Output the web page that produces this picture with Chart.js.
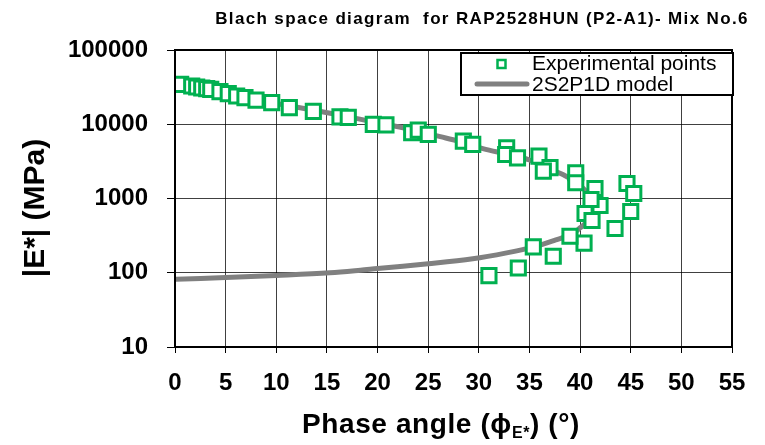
<!DOCTYPE html>
<html><head><meta charset="utf-8">
<script src="https://cdn.jsdelivr.net/npm/chart.js@4/dist/chart.umd.min.js"></script>
<style>html,body{margin:0;padding:0;background:#fff}</style>
</head><body>
<canvas id="c" width="765" height="445" style="display:block;width:765px;height:445px"></canvas>
<script>
const chartTitle = 'Blach space diagram  for RAP2528HUN (P2-A1)- Mix No.6';
const xAxisTitle = ['Phase angle (\u03D5', 'E*', ') (\u00B0)'];
const yAxisTitle = '|E*| (MPa)';
const legendLabels = ['Experimental points', '2S2P1D model'];
const xTickValues = [0, 5, 10, 15, 20, 25, 30, 35, 40, 45, 50, 55];
const yTickValues = [10, 100, 1000, 10000, 100000];

// Experimental points: phase angle (deg) and |E*| (MPa)
const expPhase = [0.56, 1.65, 2.14, 2.64, 3.13, 3.53, 4.44, 5.26, 6.09, 6.91, 8.0, 9.55, 11.29, 13.66, 16.29, 17.11,
  19.58, 20.83, 23.37, 24.02, 25.01, 28.47, 29.4, 32.75, 32.65, 33.82, 35.94, 37.03, 36.37, 39.57, 39.57,
  41.47, 41.97, 41.08, 40.49, 41.18, 43.45, 44.63, 45.3, 45.0,
  40.39, 39.0, 37.35, 35.38, 33.9, 31.0];
const expModulus = [34450, 32700, 31700, 30750, 30150, 29500, 27480, 25820, 23990, 22800, 21170, 19540, 16720, 14900, 12560, 12370,
  9950, 9800, 7690, 8340, 7300, 5930, 5350, 4830, 3920, 3520, 3720, 2600, 2340, 2220, 1630,
  1364, 805, 970, 628, 505, 394, 1593, 1168, 668,
  251, 310, 167, 223, 116, 91.6];

// 2S2P1D model curve
const modelPhase = [0.3, 2, 5, 8, 10, 13.3, 16, 20, 23, 26.2, 28, 30.4, 33, 35, 37, 38.3, 39.65, 40.6, 41.2, 41.4,
  41.2, 40.6, 40, 39.3, 37.7, 35.4, 32.75, 29.4, 25, 20, 18.3, 15.3, 10, 5, 0.1];
const modelModulus = [36000, 32000, 26000, 21500, 19000, 15800, 13500, 10500, 8700, 6800, 5900, 4700, 3900, 3300, 2500, 2100, 1630, 1250, 950, 750,
  580, 470, 403, 337, 280, 223, 185, 154, 132, 114, 108, 100, 92, 86, 82];

const FONT = "'Liberation Sans', Arial, sans-serif";
const GREEN = '#00B050';
const GREY = '#808080';

const decor = {
  id: 'decor',
  afterDraw(chart) {
    const ctx = chart.ctx;
    const a = chart.chartArea;
    ctx.save();
    // frame
    ctx.strokeStyle = '#000';
    ctx.lineWidth = 2;
    ctx.strokeRect(a.left, a.top, a.right - a.left, a.bottom - a.top);
    // title
    ctx.fillStyle = '#000';
    ctx.font = 'bold 17px ' + FONT;
    ctx.textAlign = 'center';
    ctx.textBaseline = 'middle';
    try { ctx.letterSpacing = '1.35px'; } catch (e) {}
    ctx.fillText(chartTitle, 482, 19);
    // x axis title with subscript
    try { ctx.letterSpacing = '0.6px'; } catch (e) {}
    ctx.textAlign = 'left';
    ctx.textBaseline = 'alphabetic';
    const f1 = 'bold 28px ' + FONT, f2 = 'bold 16px ' + FONT;
    ctx.font = f1; const w1 = ctx.measureText(xAxisTitle[0]).width;
    ctx.font = f2; const w2 = ctx.measureText(xAxisTitle[1]).width;
    ctx.font = f1; const w3 = ctx.measureText(xAxisTitle[2]).width;
    let x0 = 441 - (w1 + w2 + w3) / 2;
    const by = 433;
    ctx.font = f1; ctx.fillText(xAxisTitle[0], x0, by);
    ctx.font = f2; ctx.fillText(xAxisTitle[1], x0 + w1, by + 5);
    ctx.font = f1; ctx.fillText(xAxisTitle[2], x0 + w1 + w2, by);
    try { ctx.letterSpacing = '0px'; } catch (e) {}
    // y axis title
    ctx.save();
    ctx.translate(36, 208);
    ctx.rotate(-Math.PI / 2);
    ctx.font = 'bold 30px ' + FONT;
    ctx.textAlign = 'center';
    ctx.textBaseline = 'middle';
    ctx.fillText(yAxisTitle, 0, 0);
    ctx.restore();
    // legend
    const lx = 461, ly = 53, lw = 272, lh = 42;
    ctx.fillStyle = '#fff';
    ctx.fillRect(lx, ly, lw, lh);
    ctx.strokeStyle = '#000';
    ctx.lineWidth = 2;
    ctx.strokeRect(lx, ly, lw, lh);
    ctx.strokeStyle = GREEN;
    ctx.lineWidth = 2.5;
    ctx.strokeRect(497.5, 60, 8, 8);
    ctx.strokeStyle = GREY;
    ctx.lineWidth = 5;
    ctx.lineCap = 'round';
    ctx.beginPath(); ctx.moveTo(477, 84); ctx.lineTo(527, 84); ctx.stroke();
    ctx.fillStyle = '#000';
    ctx.font = '21px ' + FONT;
    ctx.textAlign = 'left';
    ctx.textBaseline = 'middle';
    ctx.fillText(legendLabels[0], 532, 64);
    ctx.fillText(legendLabels[1], 532, 85);
    ctx.restore();
  }
};

const expData = expPhase.map((x, i) => ({x: x, y: expModulus[i]}));
const modelData = modelPhase.map((x, i) => ({x: x, y: modelModulus[i]}));

new Chart(document.getElementById('c'), {
  type: 'scatter',
  data: {
    datasets: [
      {
        label: legendLabels[0], data: expData, order: 0,
        pointStyle: 'rect', pointRadius: 10, pointHoverRadius: 10,
        borderColor: GREEN, backgroundColor: '#fff', pointBorderWidth: 3, borderWidth: 3,
        showLine: false
      },
      {
        label: legendLabels[1], data: modelData, order: 1,
        showLine: true, pointRadius: 0, borderColor: GREY, borderWidth: 5,
        tension: 0.35, fill: false, borderCapStyle: 'round'
      }
    ]
  },
  options: {
    responsive: false, animation: false,
    layout: { padding: { left: 0, right: 33, top: 50, bottom: 0 } },
    plugins: { legend: { display: false }, title: { display: false }, tooltip: { enabled: false } },
    scales: {
      x: {
        type: 'linear', min: 0, max: 55,
        afterFit: (s) => { s.height = 98; },
        afterBuildTicks: (s) => { s.ticks = xTickValues.map(v => ({value: v})); },
        ticks: { font: { family: FONT, size: 24, weight: 'bold' }, color: '#000', padding: 16, maxRotation: 0 },
        grid: { color: 'rgba(0,0,0,0.75)', lineWidth: 1, borderDash: [2, 2], tickLength: 6, tickColor: '#000', tickBorderDash: [], drawOnChartArea: true },
        border: { display: true, color: '#000', width: 2 }
      },
      y: {
        type: 'logarithmic', min: 10, max: 100000,
        afterFit: (s) => { s.width = 175; },
        afterBuildTicks: (s) => { s.ticks = yTickValues.map(v => ({value: v})); },
        ticks: { font: { family: FONT, size: 24, weight: 'bold' }, color: '#000', padding: 19, callback: (v) => String(v) },
        grid: { color: 'rgba(0,0,0,0.75)', lineWidth: 1, borderDash: [2, 2], tickLength: 8, tickColor: '#000', tickBorderDash: [] },
        border: { display: true, color: '#000', width: 2 }
      }
    }
  },
  plugins: [decor]
});
</script>
</body></html>
